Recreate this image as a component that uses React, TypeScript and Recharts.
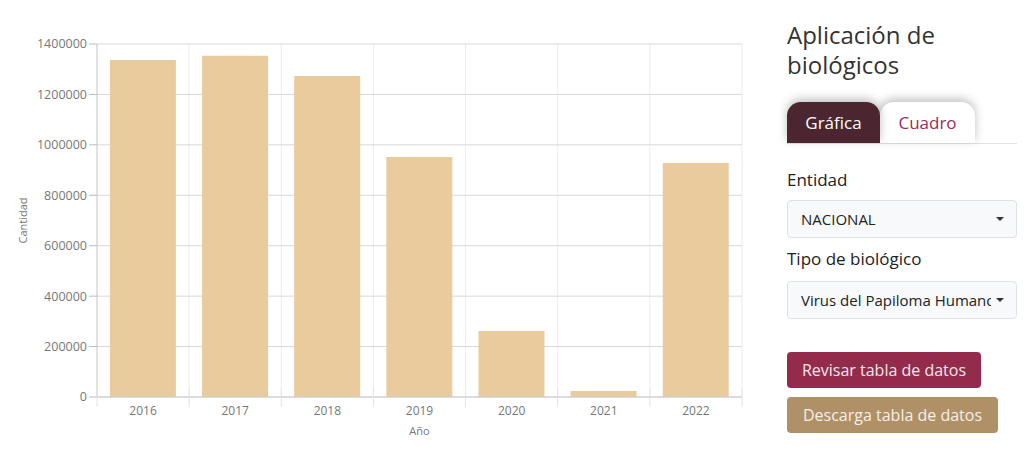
import { BarChart, Bar, XAxis, YAxis, CartesianGrid } from 'recharts'

const years = ['2016', '2017', '2018', '2019', '2020', '2021', '2022']
const cantidad = [1337000, 1353000, 1273000, 952000, 262000, 24000, 928000]
const yTicks = [0, 200000, 400000, 600000, 800000, 1000000, 1200000, 1400000]

const data = years.map((y, i) => ({ anio: y, cantidad: cantidad[i] }))

const FONT = '"Open Sans", "Noto Sans", sans-serif'
const BAND = 645 / years.length

function YearTick(props: any) {
  const { x, y, payload, index } = props
  const axisY = y - 8
  return (
    <g>
      <line x1={x - BAND / 2} x2={x - BAND / 2} y1={axisY - 8} y2={axisY + 10} stroke="#e4e4e4" />
      {index === years.length - 1 && (
        <line x1={x + BAND / 2} x2={x + BAND / 2} y1={axisY - 8} y2={axisY + 10} stroke="#e4e4e4" />
      )}
      <text x={x} y={axisY + 18} textAnchor="middle" fontSize={12} fill="#777" fontFamily={FONT}>
        {payload.value}
      </text>
    </g>
  )
}

// y axis title, centred on the plot's vertical middle
function CantidadLabel(props: any) {
  const { viewBox } = props
  const cx = 22
  const cy = viewBox.y + viewBox.height / 2
  return (
    <text
      x={cx}
      y={cy}
      transform={`rotate(-90 ${cx} ${cy})`}
      textAnchor="middle"
      dominantBaseline="central"
      fontSize={11}
      fill="#777"
      fontFamily={FONT}
    >
      Cantidad
    </text>
  )
}

function Chart() {
  return (
    <BarChart
      width={760}
      height={440}
      data={data}
      margin={{ top: 44, right: 18, left: 20, bottom: 13 }}
      barCategoryGap="14%"
    >
      <CartesianGrid
        stroke="#ececec"
        horizontal={false}
        verticalCoordinatesGenerator={({ offset }: any) =>
          years.map((_, i) => offset.left + (i * offset.width) / years.length).concat(offset.left + offset.width)
        }
      />
      <CartesianGrid stroke="#d8d8d8" vertical={false} />
      <XAxis
        dataKey="anio"
        height={30}
        tickLine={false}
        axisLine={{ stroke: '#ccc' }}
        tick={<YearTick />}
        interval={0}
        label={{ value: 'Año', position: 'insideBottom', offset: -8, fontSize: 11, fill: '#777', fontFamily: FONT }}
      />
      <YAxis
        width={77}
        domain={[0, 1400000]}
        ticks={yTicks}
        interval={0}
        tick={{ fontSize: 12.5, fill: '#777', fontFamily: FONT }}
        tickLine={{ stroke: '#bbb' }}
        tickSize={8}
        axisLine={{ stroke: '#ccc' }}
        label={<CantidadLabel />}
      />
      <Bar dataKey="cantidad" fill="#eacb9d" isAnimationActive={false} />
    </BarChart>
  )
}

const selectStyle: React.CSSProperties = {
  position: 'absolute',
  left: 787,
  width: 230,
  height: 38,
  boxSizing: 'border-box',
  background: '#f8f9fa',
  border: '1px solid #dee2e6',
  borderRadius: 4,
  fontSize: 15,
  color: '#222',
  display: 'flex',
  alignItems: 'center',
  paddingLeft: 13,
}

const caret = (
  <span
    style={{
      position: 'absolute',
      right: 12,
      top: 16,
      width: 0,
      height: 0,
      borderLeft: '4px solid transparent',
      borderRight: '4px solid transparent',
      borderTop: '4px solid #333',
    }}
  />
)

export default function App() {
  return (
    <div style={{ position: 'absolute', left: 0, top: 0, width: 1024, height: 464, background: '#fff', fontFamily: FONT, overflow: 'hidden' }}>
      <div style={{ position: 'absolute', left: 0, top: 0 }}>
        <Chart />
      </div>
      <div style={{ position: 'absolute', left: 787, top: 20, fontSize: 24, lineHeight: '30px', color: '#333' }}>
        <div>Aplicación de</div>
        <div>biológicos</div>
      </div>
      <div style={{ position: 'absolute', left: 787, top: 143, width: 230, height: 1, background: '#e3e3e3' }} />
      <div
        style={{
          position: 'absolute', left: 880, top: 102, width: 95, height: 41,
          background: '#fff', borderRadius: '14px 14px 0 0', boxShadow: '0 -3px 10px rgba(0,0,0,0.25)',
          color: '#9b2d55', fontSize: 17, display: 'flex', alignItems: 'center', justifyContent: 'center',
        }}
      >
        Cuadro
      </div>
      <div
        style={{
          position: 'absolute', left: 787, top: 102, width: 93, height: 41,
          background: '#4b2530', borderRadius: '14px 14px 0 0', boxShadow: '0 -3px 10px rgba(0,0,0,0.25)',
          color: '#fff', fontSize: 17, display: 'flex', alignItems: 'center', justifyContent: 'center',
        }}
      >
        Gráfica
      </div>
      <div style={{ position: 'absolute', left: 787, top: 168, fontSize: 17, color: '#222' }}>Entidad</div>
      <div style={{ ...selectStyle, top: 200 }}>
        NACIONAL
        {caret}
      </div>
      <div style={{ position: 'absolute', left: 787, top: 247, fontSize: 17, color: '#222' }}>Tipo de biológico</div>
      <div style={{ ...selectStyle, top: 281, overflow: 'hidden', whiteSpace: 'nowrap', paddingRight: 24 }}>
        <span style={{ overflow: 'hidden', width: 190 }}>Virus del Papiloma Humano</span>
        {caret}
      </div>
      <div
        style={{
          position: 'absolute', left: 787, top: 352, width: 194, height: 36, borderRadius: 4,
          background: '#932c4c', color: '#f3e6ea', fontSize: 16, display: 'flex', alignItems: 'center', justifyContent: 'center',
        }}
      >
        Revisar tabla de datos
      </div>
      <div
        style={{
          position: 'absolute', left: 787, top: 397, width: 211, height: 36, borderRadius: 4,
          background: '#b09066', color: '#f6efe6', fontSize: 16, display: 'flex', alignItems: 'center', justifyContent: 'center',
        }}
      >
        Descarga tabla de datos
      </div>
    </div>
  )
}
